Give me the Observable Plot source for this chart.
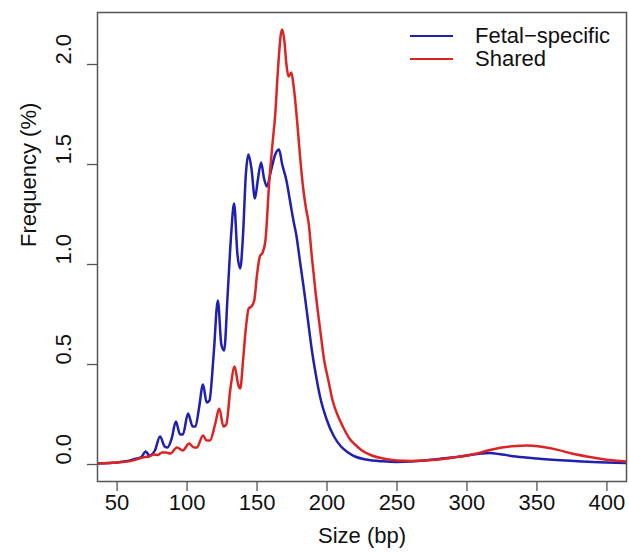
<!DOCTYPE html>
<html><head><meta charset="utf-8">
<script src="https://cdn.jsdelivr.net/npm/d3@7"></script>
<script src="https://cdn.jsdelivr.net/npm/@observablehq/plot@0.6"></script>
<style>
body{margin:0;background:#fff;font-family:"Liberation Sans",Arial,sans-serif}
#wrap{position:relative;width:629px;height:555px}
.leg{position:absolute;left:410px;font-size:22px;color:#111;line-height:23px}
.leg div{display:flex;align-items:center;height:23px}
.leg span.sw{display:inline-block;width:43px;height:0;border-top:2.5px solid;margin-right:22px}
</style></head><body><div id="wrap"></div>
<script>
const seriesNames = ["Fetal\u2212specific", "Shared"];
const seriesColors = ["#1f1fb0", "#dd2424"];
const xTicks = [50, 100, 150, 200, 250, 300, 350, 400];
const yTicks = [0, 0.5, 1, 1.5, 2];
const xLabel = "Size (bp)";
const yLabel = "Frequency (%)";

const fetalSize = [36,45,50,55,60,64,67,70.5,73,77,80.7,84,86,89,92,95,97,100.7,104,106,108.5,111.4,114,116,119,122,124.5,126.5,129,131.5,133.6,136,138,140,142,143.8,146,148.5,150.5,152.9,155,157,160,163,165.7,168,171,174,176,178,181,184,186.4,189,192,195,200,205,210,215,220,228,240,250,260,270,280,290,300,310,316,325,335,350,370,390,414];
const fetalFreq = [0.005,0.008,0.01,0.015,0.022,0.03,0.035,0.065,0.045,0.07,0.14,0.09,0.085,0.13,0.215,0.15,0.15,0.255,0.19,0.19,0.28,0.40,0.31,0.32,0.55,0.82,0.6,0.57,0.85,1.15,1.305,1.05,0.98,1.15,1.45,1.55,1.48,1.33,1.42,1.51,1.43,1.39,1.47,1.55,1.575,1.5,1.42,1.3,1.22,1.15,1.0,0.85,0.72,0.58,0.45,0.34,0.22,0.14,0.09,0.06,0.04,0.025,0.016,0.013,0.015,0.02,0.028,0.035,0.045,0.055,0.058,0.05,0.04,0.03,0.02,0.012,0.008];

const sharedSize = [36,45,50,60,66,70,73,76,79,82,85,88,92.8,97,101.4,105,107,111.4,114,116.4,120,123,126,128,131,134,136.5,138,140,142,144,146,148,150,152,154,156,158.6,161,163,165,167,168,169.5,171,172.5,174.5,176,178.6,181,183,185,187,189,192,195,198,201,204,208,212,216,220,225,232,240,250,260,270,280,290,300,307,315,325,335,343,352,362,375,390,402,414];
const sharedFreq = [0.005,0.008,0.01,0.018,0.03,0.038,0.04,0.05,0.048,0.06,0.06,0.055,0.085,0.07,0.105,0.085,0.085,0.145,0.12,0.12,0.2,0.28,0.19,0.2,0.38,0.49,0.4,0.38,0.52,0.68,0.78,0.79,0.82,0.95,1.04,1.06,1.12,1.4,1.6,1.75,1.98,2.15,2.175,2.12,2.0,1.94,1.96,1.9,1.72,1.52,1.38,1.28,1.2,1.05,0.85,0.68,0.52,0.42,0.32,0.24,0.18,0.13,0.1,0.07,0.045,0.03,0.02,0.018,0.02,0.025,0.035,0.045,0.055,0.07,0.085,0.093,0.095,0.09,0.078,0.055,0.035,0.022,0.015];

const fetal = fetalSize.map((s, i) => ({size: s, freq: fetalFreq[i]}));
const shared = sharedSize.map((s, i) => ({size: s, freq: sharedFreq[i]}));

const font = "'Liberation Sans', Arial, sans-serif";
const chart = Plot.plot({
  width: 629, height: 555,
  marginLeft: 97, marginRight: 3, marginTop: 12, marginBottom: 74,
  x: {domain: [36, 414]},
  y: {domain: [-0.085, 2.26]},
  style: {fontFamily: font, fontSize: "22px", color: "#111", background: "#fff"},
  marks: [
    Plot.axisX({ticks: xTicks, tickSize: 10, tickFormat: () => "", label: null, stroke: "#555", strokeWidth: 1.3}),
    Plot.axisY({ticks: yTicks, tickSize: 10, tickFormat: () => "", label: null, stroke: "#555", strokeWidth: 1.3}),
    Plot.text(xTicks, {x: d => d, frameAnchor: "bottom", dy: 28, text: d => String(d), fontSize: 22, fill: "#111"}),
    Plot.text(yTicks, {y: d => d, frameAnchor: "left", dx: -34, rotate: -90, text: d => d.toFixed(1), fontSize: 22, fill: "#111"}),
    Plot.text([xLabel], {frameAnchor: "bottom", dy: 61, text: d => d, fontSize: 22, fill: "#111"}),
    Plot.text([yLabel], {frameAnchor: "left", dx: -69, rotate: -90, text: d => d, fontSize: 22, fill: "#111"}),
    Plot.line(fetal, {x: "size", y: "freq", stroke: seriesColors[0], strokeWidth: 2.5, curve: "monotone-x", clip: true}),
    Plot.line(shared, {x: "size", y: "freq", stroke: seriesColors[1], strokeWidth: 2.5, curve: "monotone-x", clip: true}),
    Plot.frame({stroke: "#555", strokeWidth: 1.5})
  ]
});
const wrap = document.getElementById("wrap");
wrap.appendChild(chart);
const leg = document.createElement("div");
leg.className = "leg";
leg.style.top = "24px";
seriesNames.forEach((n, i) => {
  const row = document.createElement("div");
  const sw = document.createElement("span");
  sw.className = "sw";
  sw.style.borderColor = seriesColors[i];
  row.appendChild(sw);
  row.appendChild(document.createTextNode(n));
  leg.appendChild(row);
});
wrap.appendChild(leg);
</script></body></html>
